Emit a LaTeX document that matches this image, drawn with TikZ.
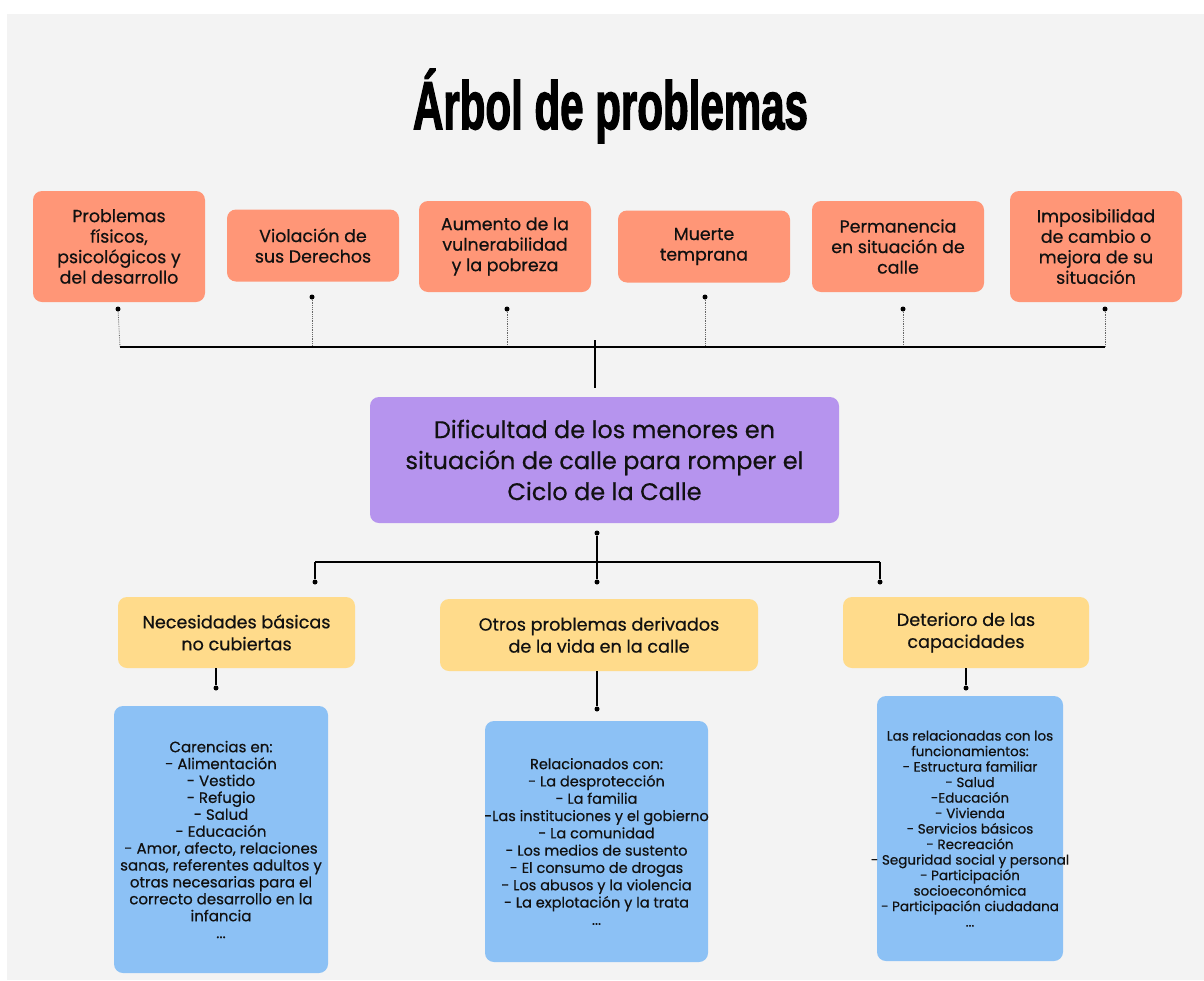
\documentclass[tikz,border=0pt]{standalone}
\usepackage{fontspec}
\setmainfont{Poppins}[FakeBold=0.5]
\newfontfamily\titlefont{Liberation Sans Bold}[FakeBold=2.5]
\definecolor{bgc}{HTML}{F3F3F3}
\definecolor{orangebox}{HTML}{FF9677}
\definecolor{purplebox}{HTML}{B694EE}
\definecolor{yellowbox}{HTML}{FFDB8B}
\definecolor{bluebox}{HTML}{8CC1F5}
\definecolor{ink}{HTML}{111111}
\begin{document}
\begin{tikzpicture}[x=1pt,y=-1pt,
  box/.style={rounded corners=9pt, draw=none, align=center, text=ink, inner sep=0pt},
  topbox/.style={box, fill=orangebox, minimum width=172, font=\fontsize{17.4}{20.5}\selectfont},
  corebox/.style={box, fill=purplebox, font=\fontsize{24}{31}\selectfont},
  midbox/.style={box, fill=yellowbox, font=\fontsize{17.6}{22}\selectfont},
  leafbox/.style={box, fill=bluebox, inner xsep=-8pt},
  dotnode/.style={circle, fill=black, inner sep=0pt, minimum size=5pt},
  dotline/.style={densely dotted, draw=gray!80!black, line width=0.8pt},
  solidline/.style={draw=black, line width=1.8pt},
  thickline/.style={draw=black, line width=2.8pt}
]
\useasboundingbox (0,0) rectangle (1204,980);
\fill[white] (0,0) rectangle (1204,980);
\fill[bgc] (7,14) rectangle (1204,980);

% title
\node[anchor=base, inner sep=0pt, text=black] (title) at (610.5,129)
  {\resizebox{395pt}{60pt}{\titlefont Árbol de problemas}};

% top effects
\node[topbox, minimum height=111] (t1) at (119,246.5) {Problemas\\físicos,\\psicológicos y\\del desarrollo};
\node[topbox, minimum height=72] (t2) at (313,245.5) {Violación de\\sus Derechos};
\node[topbox, minimum height=91] (t3) at (505,246.5) {Aumento de la\\vulnerabilidad\\y la pobreza};
\node[topbox, minimum height=72] (t4) at (704,246.5) {Muerte\\temprana};
\node[topbox, minimum height=91] (t5) at (898,246.5) {Permanencia\\en situación de\\calle};
\node[topbox, minimum height=111] (t6) at (1096,246.5) {Imposibilidad\\de cambio o\\mejora de su\\situación};

\node[dotnode] (td1) at (118,309) {};
\node[dotnode] (td2) at (312,297) {};
\node[dotnode] (td3) at (507,309) {};
\node[dotnode] (td4) at (705,297) {};
\node[dotnode] (td5) at (903,309) {};
\node[dotnode] (td6) at (1105,309) {};

\coordinate (tj1) at (120,347);
\coordinate (tj2) at (312,347);
\coordinate (tj3) at (507,347);
\coordinate (tj4) at (705,347);
\coordinate (tj5) at (903,347);
\coordinate (tj6) at (1105,347);
\foreach \i in {1,...,6} { \draw[dotline] (td\i) -- (tj\i); }
\draw[solidline] (tj1) -- (tj6);

\coordinate (stemtop) at (595,340);
\coordinate (stembot) at (595,388);
\draw[solidline] (stemtop) -- (stembot);

% core problem
\node[corebox, minimum width=469, minimum height=126] (core) at (604.5,460)
  {Dificultad de los menores en\\situación de calle para romper el\\Ciclo de la Calle};

% causes
\node[dotnode] (cd) at (597,533) {};
\node[dotnode] (md) at (597,582) {};
\node[dotnode] (ld) at (315,582) {};
\node[dotnode] (rd) at (880,582) {};
\coordinate (lj) at (315,562);
\coordinate (rj) at (880,562);
\draw[line width=1.2pt] (cd) -- (md);
\draw[thickline] (lj) -- (rj);
\draw[line width=1.2pt] (lj) -- (ld);
\draw[line width=1.2pt] (rj) -- (rd);

\node[midbox, minimum width=237, minimum height=71] (y1) at (236.5,632.5) {Necesidades básicas\\no cubiertas};
\node[midbox, minimum width=318, minimum height=72] (y2) at (599,635) {Otros problemas derivados\\de la vida en la calle};
\node[midbox, minimum width=246, minimum height=71] (y3) at (966,632.5) {Deterioro de las\\capacidades};

\node[dotnode] (yd1) at (216,688) {};
\node[dotnode] (yd2) at (597,709) {};
\node[dotnode] (yd3) at (966,688) {};
\draw[line width=1.2pt] (y1.south -| yd1) -- (yd1);
\draw[line width=1.2pt] (y2.south -| yd2) -- (yd2);
\draw[line width=1.2pt] (y3.south -| yd3) -- (yd3);

% details
\node[leafbox, minimum width=214, minimum height=267, font=\fontsize{15}{16.9}\selectfont] (b1) at (221,839.5)
  {Carencias en:\\- Alimentación\\- Vestido\\- Refugio\\- Salud\\- Educación\\- Amor, afecto, relaciones\\sanas, referentes adultos y\\otras necesarias para el\\correcto desarrollo en la\\infancia\\...};
\node[leafbox, minimum width=223, minimum height=241, font=\fontsize{14.5}{17.3}\selectfont] (b2) at (596.5,841.5)
  {Relacionados con:\\- La desprotección\\- La familia\\-Las instituciones y el gobierno\\- La comunidad\\- Los medios de sustento\\- El consumo de drogas\\- Los abusos y la violencia\\- La explotación y la trata\\...};
\node[leafbox, minimum width=186, minimum height=265, font=\fontsize{13.5}{15.5}\selectfont] (b3) at (970,828.5)
  {Las relacionadas con los\\funcionamientos:\\- Estructura familiar\\- Salud\\-Educación\\- Vivienda\\- Servicios básicos\\- Recreación\\- Seguridad social y personal\\- Participación\\socioeconómica\\- Participación ciudadana\\...};
\end{tikzpicture}
\end{document}
